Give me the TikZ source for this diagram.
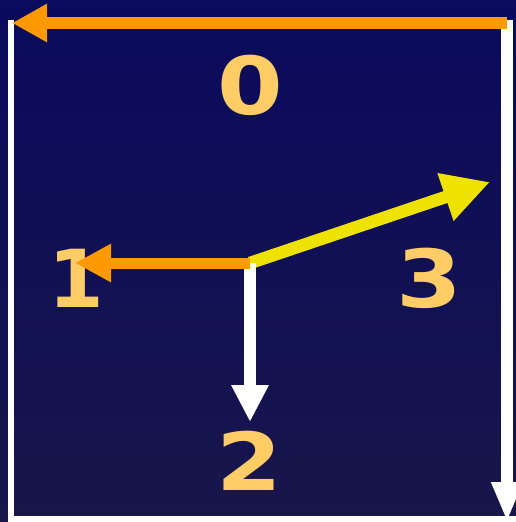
\documentclass[tikz,border=0pt]{standalone}
\usepackage{fontspec}
\newfontfamily\digitfont{DejaVu Sans}
\usetikzlibrary{arrows.meta}
\definecolor{skyTop}{HTML}{0A0A5E}
\definecolor{skyBottom}{HTML}{18164A}
\definecolor{axisOrange}{HTML}{FF9900}
\definecolor{axisYellow}{HTML}{EEE200}
\definecolor{digitGold}{HTML}{FFCC66}

\begin{document}
\begin{tikzpicture}[x=1pt, y=-1pt,
    digit/.style={text=digitGold, inner sep=0pt, font=\digitfont\bfseries\fontsize{80}{80}\selectfont},
    wide/.style={xscale=1.18},
    shaft/.style={line width=12pt}]
    \useasboundingbox (0,0) rectangle (516,522);
    % Background
    \shade[top color=skyTop, bottom color=skyBottom] (0,0) rectangle (516,522);
    \fill[white] (14,516) rectangle (516,522);

    % Labels
    \node[digit, wide] (d0) at (250,85) {0};
    \node[digit] (d1) at (76,278) {1};
    \node[digit, wide] (d2) at (249,461) {2};
    \node[digit, wide] (d3) at (429,278) {3};

    % End points
    \coordinate (lt) at (11,20);
    \coordinate (lb) at (11,522);
    \coordinate (rt) at (507,20);
    \coordinate (rb) at (507,522);
    \coordinate (t0) at (507,23);
    \coordinate (t1) at (12,23);
    \coordinate (o) at (250,263);
    \coordinate (e1) at (75,263);
    \coordinate (e2) at (250,422);
    \coordinate (e3) at (490,182);

    % Frame
    \draw[white, line width=6pt] (lt) -- (lb);
    \draw[white, shaft, -{Triangle[length=40pt, width=29pt]}] (rt) -- (rb);
    \draw[axisOrange, shaft, -{Triangle[length=35pt, width=36pt]}] (t0) -- (t1);

    % Vectors from the centre
    \draw[axisYellow, line width=12.5pt, -{Triangle[length=47pt, width=47pt]}] (o) -- (e3);
    \draw[white, shaft, -{Triangle[length=37pt, width=35pt]}] (o) -- (e2);
    \draw[axisOrange, line width=11pt, -{Triangle[length=36pt, width=36pt]}] (o) -- (e1);
\end{tikzpicture}
\end{document}
